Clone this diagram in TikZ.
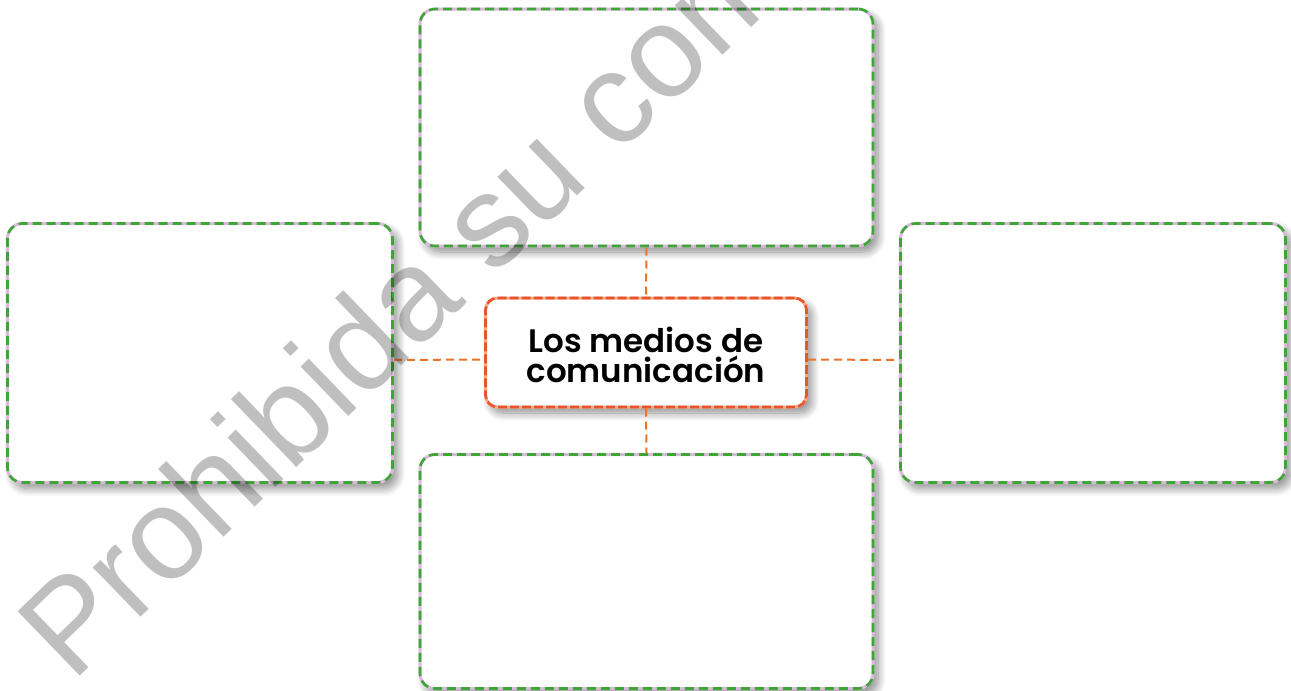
\documentclass[tikz,border=0pt]{standalone}
\usepackage{fontspec}
\setmainfont{Poppins}
\newfontfamily\temafont{Poppins SemiBold}
\newfontfamily\marcafont{Liberation Sans}
\usetikzlibrary{shadows.blur, calc}

\definecolor{verdecaja}{HTML}{3EA537}
\definecolor{lilacaja}{HTML}{DCB9DC}
\definecolor{naranja}{HTML}{E8542B}
\definecolor{naranjaclaro}{HTML}{F5AE8C}
\definecolor{conector}{HTML}{E8742A}

\begin{document}
\begin{tikzpicture}[x=1pt, y=-1pt,
    caja/.style={rectangle, rounded corners=15pt, fill=white, draw=lilacaja, line width=3pt,
        blur shadow={shadow xshift=5pt, shadow yshift=-6pt, shadow blur radius=8pt, shadow blur steps=14, shadow opacity=45},
        postaction={draw=verdecaja, line width=2.6pt, dash pattern=on 9pt off 5pt}},
    tema/.style={rectangle, rounded corners=12pt, fill=white, draw=naranjaclaro, line width=3pt,
        blur shadow={shadow xshift=5pt, shadow yshift=-6pt, shadow blur radius=8pt, shadow blur steps=14, shadow opacity=45},
        postaction={draw=naranja, line width=2.6pt, dash pattern=on 9pt off 3pt},
        align=center, font=\temafont\fontsize{32.5}{30}\selectfont, inner sep=0pt},
    enlace/.style={draw=conector, line width=2pt, dash pattern=on 8pt off 5pt},
    marca/.style={font=\marcafont\fontsize{130}{130}\selectfont, text=black, opacity=0.25, inner sep=0pt}
]
    \useasboundingbox (0, 0) rectangle (1291, 691);

    % las cuatro cajas vacias
    \node[caja, minimum width=453pt, minimum height=237pt] (arriba) at (646.5, 127.5) {};
    \node[caja, minimum width=385pt, minimum height=259pt] (izq) at (200, 353) {};
    \node[caja, minimum width=385pt, minimum height=259pt] (der) at (1093, 353) {};
    \node[caja, minimum width=453pt, minimum height=234pt] (abajo) at (646.5, 571.5) {};

    % el tema central
    \node[tema, minimum width=321pt, text height=84pt, text depth=25pt] (centro) at (646, 352.5) {Los medios de\\comunicación};

    % conectores
    \draw[enlace] (arriba.south) -- (centro.north);
    \draw[enlace] (centro.south) -- (abajo.north);
    \draw[enlace] ([yshift=-7pt]izq.east) -- ([yshift=-7pt]centro.west);
    \draw[enlace] ([yshift=-7pt]centro.east) -- ([yshift=-7pt]der.west);

    % marca de agua
    \begin{scope}
        \clip (0, 0) rectangle (1291, 691);
        \node[marca, anchor=base west, rotate=44] (agua) at (72, 684) {Prohibida su comercialización};
    \end{scope}

\end{tikzpicture}
\end{document}
